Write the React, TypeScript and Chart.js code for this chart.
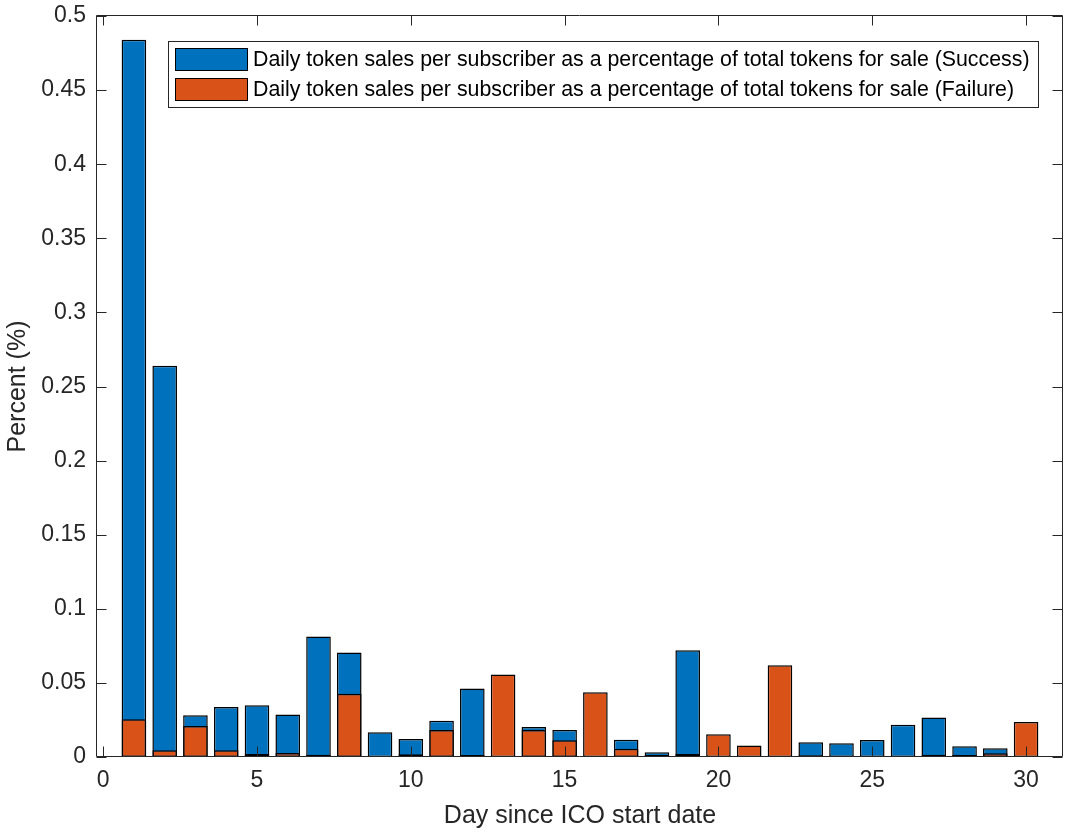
import React, { useEffect, useRef } from "react";
import { Chart, registerables } from "chart.js";

Chart.register(...registerables);

const days = [1, 2, 3, 4, 5, 6, 7, 8, 9, 10, 11, 12, 13, 14, 15, 16, 17, 18, 19, 20, 21, 22, 23, 24, 25, 26, 27, 28, 29, 30];
const successValues = [0.484, 0.264, 0.0282, 0.0338, 0.0349, 0.0286, 0.0813, 0.0705, 0.0167, 0.0122, 0.0245, 0.0462, 0, 0.0203, 0.0182, 0, 0.0117, 0.0032, 0.0721, 0, 0, 0, 0.0099, 0.0092, 0.0115, 0.0218, 0.0266, 0.0072, 0.0059, 0];
const failureValues = [0.0255, 0.0045, 0.0209, 0.0045, 0.002, 0.0027, 0.0016, 0.0426, 0.0007, 0.0018, 0.0182, 0.0014, 0.0556, 0.0182, 0.0113, 0.0437, 0.0056, 0.0014, 0.002, 0.0153, 0.0077, 0.0619, 0.0011, 0.0009, 0.0003, 0.0005, 0.0016, 0.0013, 0.0025, 0.0236];
const xTicks = [0, 5, 10, 15, 20, 25, 30];
const yTicks = [0, 0.05, 0.1, 0.15, 0.2, 0.25, 0.3, 0.35, 0.4, 0.45, 0.5];
const seriesLabels = [
  "Daily token sales per subscriber as a percentage of total tokens for sale (Success)",
  "Daily token sales per subscriber as a percentage of total tokens for sale (Failure)",
];
const xTitle = "Day since ICO start date";
const yTitle = "Percent (%)";

const BLUE = "#0072BD";
const ORANGE = "#D95319";
const AXIS = "#262626";
const FONT = "'Liberation Sans', Arial, Helvetica, sans-serif";

const boxPlugin = {
  id: "matlabBox",
  afterDatasetsDraw(chart: any) {
    const { ctx, chartArea, scales } = chart;
    const { left, right, top, bottom } = chartArea;
    const L = Math.round(left) - 0.5;
    const R = Math.round(right) - 0.5;
    const T = Math.round(top) - 0.5;
    const B = Math.round(bottom) - 0.5;
    ctx.save();
    ctx.strokeStyle = AXIS;
    ctx.lineWidth = 1;
    ctx.beginPath();
    ctx.rect(L, T, R - L, B - T);
    ctx.stroke();
    const tl = 10;
    ctx.beginPath();
    for (const v of xTicks) {
      const x = Math.round(scales.x.getPixelForValue(v)) + 0.5;
      ctx.moveTo(x, B);
      ctx.lineTo(x, B - tl);
      ctx.moveTo(x, T);
      ctx.lineTo(x, T + tl);
    }
    for (const v of yTicks) {
      const y = Math.round(scales.y.getPixelForValue(v)) + 0.5;
      ctx.moveTo(L, y);
      ctx.lineTo(L + tl, y);
      ctx.moveTo(R, y);
      ctx.lineTo(R - tl, y);
    }
    ctx.stroke();

    // legend
    const lx = 168.5, ly = 41.5, lw = 870, lh = 66;
    ctx.fillStyle = "#ffffff";
    ctx.fillRect(lx, ly, lw, lh);
    ctx.strokeStyle = AXIS;
    ctx.strokeRect(lx, ly, lw, lh);
    const colors = [BLUE, ORANGE];
    const rowsY = [48, 78];
    ctx.font = `100px ${FONT}`;
    const w100 = ctx.measureText(seriesLabels[0]).width;
    const size = (777 / w100) * 100;
    ctx.font = `${size.toFixed(2)}px ${FONT}`;
    ctx.textBaseline = "middle";
    ctx.textAlign = "left";
    for (let i = 0; i < 2; i++) {
      ctx.fillStyle = colors[i];
      ctx.fillRect(175, rowsY[i], 72, 23);
      ctx.strokeStyle = "#000000";
      ctx.strokeRect(175.5, rowsY[i] + 0.5, 72, 22);
      ctx.fillStyle = "#000000";
      ctx.fillText(seriesLabels[i], 253, rowsY[i] + 12);
    }
    ctx.restore();
  },
};

export default function App() {
  const ref = useRef<HTMLCanvasElement>(null);
  useEffect(() => {
    document.body.style.margin = "0";
    const ctx = ref.current!.getContext("2d")!;
    const common = {
      borderColor: "#000000",
      borderWidth: 1.5,
      borderSkipped: false,
      grouped: false,
      barPercentage: 0.8,
      categoryPercentage: 1,
    };
    const chart = new Chart(ctx, {
      type: "bar",
      data: {
        datasets: [
          {
            label: seriesLabels[0],
            data: days.map((d, i) => ({ x: d, y: successValues[i] })),
            backgroundColor: BLUE,
            order: 1,
            ...common,
          } as any,
          {
            label: seriesLabels[1],
            data: days.map((d, i) => ({ x: d, y: failureValues[i] })),
            backgroundColor: ORANGE,
            order: 0,
            ...common,
          } as any,
        ],
      },
      options: {
        animation: false,
        responsive: false,
        maintainAspectRatio: false,
        layout: { padding: { top: 16, right: 4, left: 0, bottom: 0 } },
        plugins: { legend: { display: false }, tooltip: { enabled: false } },
        scales: {
          x: {
            type: "linear",
            min: -0.2,
            max: 31.2,
            offset: false,
            grid: { display: false, drawTicks: false },
            border: { display: false },
            afterBuildTicks: (s: any) => {
              s.ticks = xTicks.map((v) => ({ value: v }));
            },
            afterFit: (s: any) => {
              s.height = 75;
              s.paddingLeft = 0;
              s.paddingRight = 0;
            },
            ticks: {
              padding: 10,
              maxRotation: 0,
              autoSkip: false,
              color: AXIS,
              font: { family: FONT, size: 23 },
              callback: (v: any) => String(v),
            },
            title: {
              display: true,
              text: xTitle,
              color: AXIS,
              font: { family: FONT, size: 25 },
              padding: { top: 0, bottom: 1 },
            },
          },
          y: {
            type: "linear",
            min: 0,
            max: 0.5,
            grid: { display: false, drawTicks: false },
            border: { display: false },
            afterBuildTicks: (s: any) => {
              s.ticks = yTicks.map((v) => ({ value: v }));
            },
            afterFit: (s: any) => {
              s.width = 97;
              s.paddingTop = 0;
              s.paddingBottom = 0;
            },
            ticks: {
              padding: 11,
              autoSkip: false,
              color: AXIS,
              font: { family: FONT, size: 23 },
              callback: (v: any) => String(parseFloat(Number(v).toFixed(2))),
            },
            title: {
              display: true,
              text: yTitle,
              color: AXIS,
              font: { family: FONT, size: 25 },
              padding: { top: 3, bottom: 0 },
            },
          },
        },
      },
      plugins: [boxPlugin],
    });
    return () => chart.destroy();
  }, []);
  return (
    <div style={{ width: 1067, height: 832, background: "#ffffff" }}>
      <canvas ref={ref} width={1067} height={832} style={{ display: "block" }} />
    </div>
  );
}
